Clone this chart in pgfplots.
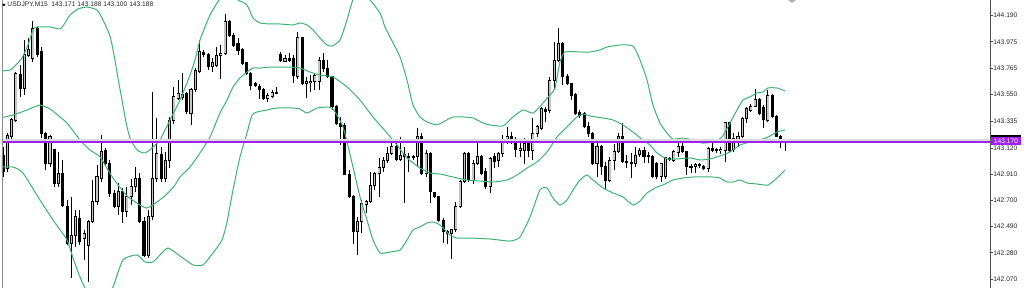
\documentclass[border=0pt]{standalone}
\usepackage{pgfplots}
\usepackage{pgfplotstable}
\pgfplotsset{compat=1.18}
\usepackage{fontspec}
\setmainfont{Liberation Sans}
\definecolor{band}{HTML}{3CB371}
\definecolor{hline}{HTML}{A020F0}
\definecolor{bullfill}{HTML}{C6C6C6}
\definecolor{bidline}{HTML}{DADADA}

\pgfplotstableread{
i o h l c
0 143.066 143.133 142.892 142.932
1 142.959 143.240 142.932 143.226
2 143.213 143.360 143.159 143.347
3 143.347 143.735 143.333 143.722
4 143.716 143.788 143.534 143.601
5 143.601 143.989 143.548 143.869
6 143.869 144.003 143.855 143.914
7 143.842 144.145 143.815 144.083
8 144.083 144.096 143.855 143.869
9 143.896 143.936 143.200 143.240
10 143.240 143.253 142.945 142.999
11 142.999 143.226 142.972 143.213
12 143.106 143.119 142.812 142.838
13 142.838 143.092 142.812 142.919
14 142.919 143.025 142.651 142.664
15 142.651 142.705 142.343 142.356
16 142.356 142.731 142.075 142.423
17 142.423 142.624 142.330 142.571
18 142.557 142.624 142.343 142.370
19 142.397 142.464 142.223 142.437
20 142.343 142.544 142.049 142.530
21 142.530 142.865 142.517 142.691
22 142.691 142.985 142.664 142.892
23 142.878 143.226 142.852 143.092
24 143.106 143.119 142.985 142.999
25 142.999 143.025 142.731 142.758
26 142.758 142.785 142.638 142.651
27 142.651 142.838 142.584 142.771
28 142.771 142.798 142.517 142.611
29 142.611 142.812 142.571 142.731
30 142.731 142.878 142.664 142.812
31 142.812 142.972 142.771 142.878
32 142.878 142.919 142.517 142.530
33 142.530 142.571 142.249 142.263
34 142.263 142.624 142.236 142.571
35 142.571 143.574 142.544 142.878
36 142.878 143.360 142.852 143.079
37 143.066 143.133 142.852 142.878
38 142.878 143.092 142.852 143.025
39 143.025 143.374 142.959 143.347
40 143.347 143.615 143.320 143.534
41 143.521 143.668 143.507 143.561
42 143.529 143.722 143.507 143.553
43 143.561 143.574 143.400 143.414
44 143.400 143.601 143.307 143.588
45 143.588 143.762 143.574 143.748
46 143.735 143.989 143.722 143.896
47 143.890 143.909 143.855 143.874
48 143.869 143.882 143.748 143.775
49 143.775 143.842 143.735 143.807
50 143.789 143.936 143.775 143.869
51 143.869 143.949 143.681 143.882
52 143.882 144.198 143.869 144.137
53 144.137 144.150 144.016 144.029
54 144.029 144.043 143.936 143.949
55 143.963 144.003 143.869 143.909
56 143.914 143.922 143.789 143.802
57 143.807 143.815 143.708 143.722
58 143.722 143.735 143.588 143.628
59 143.636 143.655 143.609 143.620
60 143.620 143.636 143.513 143.593
61 143.593 143.601 143.507 143.521
62 143.521 143.561 143.494 143.548
63 143.540 143.588 143.521 143.566
64 143.572 143.615 143.556 143.561
65 143.869 143.896 143.815 143.821
66 143.821 143.869 143.815 143.842
67 143.842 143.882 143.815 143.829
68 143.842 143.869 143.641 143.708
69 143.695 144.056 143.681 144.011
70 144.011 144.016 143.628 143.641
71 143.641 143.695 143.521 143.660
72 143.647 143.708 143.574 143.660
73 143.655 143.722 143.588 143.708
74 143.655 143.855 143.588 143.829
75 143.829 143.882 143.735 143.762
76 143.762 143.829 143.681 143.695
77 143.695 143.700 143.427 143.454
78 143.459 143.467 143.307 143.320
79 143.320 143.374 143.146 143.299
80 143.307 143.320 142.905 142.913
81 142.913 142.945 142.718 142.731
82 142.731 142.745 142.351 142.450
83 142.450 142.571 142.263 142.530
84 142.530 142.705 142.437 142.678
85 142.672 142.705 142.597 142.691
86 142.691 142.932 142.678 142.825
87 142.825 142.932 142.785 142.919
88 142.919 143.039 142.731 142.964
89 142.964 143.052 142.932 143.020
90 143.020 143.133 142.999 143.079
91 143.079 143.173 143.066 143.133
92 143.133 143.186 143.020 143.031
93 143.031 143.213 143.020 143.066
94 143.066 143.133 142.678 143.052
95 143.058 143.079 142.932 143.047
96 143.052 143.066 143.025 143.042
97 143.052 143.280 142.972 143.213
98 143.213 143.240 142.905 142.919
99 142.919 143.106 142.892 143.079
100 143.079 143.092 142.678 142.771
101 142.763 142.771 142.718 142.731
102 142.731 142.731 142.530 142.544
103 142.544 142.557 142.356 142.450
104 142.450 142.464 142.356 142.437
105 142.437 142.477 142.236 142.469
106 142.469 142.691 142.450 142.656
107 142.651 142.865 142.638 142.852
108 142.852 143.092 142.838 143.079
109 143.079 143.092 142.852 142.865
110 142.865 143.025 142.838 142.999
111 142.999 143.173 142.985 143.052
112 143.052 143.066 142.905 142.919
113 142.932 142.959 142.798 142.812
114 142.812 143.052 142.758 143.039
115 143.052 143.079 142.959 143.012
116 143.025 143.092 142.972 143.079
117 143.079 143.226 143.052 143.173
118 143.173 143.293 143.159 143.218
119 143.218 143.253 143.159 143.192
120 143.192 143.213 143.052 143.106
121 143.106 143.159 143.052 143.119
122 143.106 143.200 142.999 143.159
123 143.159 143.173 143.052 143.106
124 143.106 143.360 143.025 143.240
125 143.240 143.307 143.213 143.293
126 143.280 143.454 143.267 143.441
127 143.432 143.454 143.333 143.414
128 143.427 143.695 143.400 143.668
129 143.668 143.976 143.588 143.829
130 143.829 144.083 143.815 143.963
131 143.963 143.976 143.628 143.695
132 143.700 143.716 143.628 143.641
133 143.641 143.647 143.507 143.548
134 143.556 143.561 143.387 143.400
135 143.406 143.427 143.360 143.387
136 143.400 143.414 143.280 143.293
137 143.293 143.333 143.213 143.240
138 143.240 143.253 142.985 142.999
139 142.999 143.159 142.892 143.133
140 143.138 143.146 142.905 142.972
141 142.972 143.012 142.785 142.865
142 142.865 143.052 142.852 143.025
143 143.025 143.159 142.945 143.092
144 143.092 143.240 143.079 143.218
145 143.218 143.320 142.999 143.012
146 143.017 143.066 142.959 143.007
147 143.007 143.079 142.878 142.999
148 142.999 143.133 142.972 143.066
149 143.074 143.119 143.052 143.101
150 143.101 143.133 142.999 143.052
151 143.063 143.092 142.999 143.052
152 143.052 143.066 142.878 142.892
153 142.999 143.012 142.878 142.892
154 142.892 143.004 142.852 142.999
155 142.892 143.052 142.878 143.044
156 143.039 143.052 143.020 143.031
157 143.025 143.106 143.012 143.092
158 143.085 143.173 143.052 143.133
159 143.133 143.186 143.079 143.092
160 143.092 143.101 142.905 142.977
161 142.977 142.993 142.919 142.967
162 142.972 142.999 142.919 142.993
163 142.988 142.999 142.959 142.983
164 142.972 142.985 142.945 142.959
165 142.959 143.133 142.932 143.119
166 143.119 143.173 143.092 143.101
167 143.109 143.119 143.079 143.103
168 143.101 143.133 143.074 143.111
169 143.106 143.333 143.012 143.325
170 143.325 143.333 143.079 143.106
171 143.111 143.240 143.092 143.200
172 143.173 143.253 143.133 143.213
173 143.213 143.374 143.200 143.360
174 143.360 143.454 143.320 143.441
175 143.427 143.475 143.414 143.459
176 143.459 143.593 143.449 143.513
177 143.513 143.521 143.387 143.400
178 143.449 143.467 143.280 143.347
179 143.347 143.588 143.333 143.548
180 143.548 143.553 143.360 143.374
181 143.374 143.387 143.208 143.213
182 143.213 143.226 143.119 143.173
183 143.171 143.188 143.100 143.188
}\candles

\pgfplotstableread{
i p
-0.70 143.740
1.64 143.748
2.81 143.781
4.45 143.845
5.85 143.949
7.02 144.070
7.96 144.094
11.00 144.094
13.34 144.078
14.51 144.126
15.68 144.190
17.55 144.238
19.66 144.254
22.00 144.230
23.40 144.150
25.04 144.021
25.98 143.869
26.91 143.684
27.85 143.507
28.78 143.331
29.72 143.202
31.36 143.106
33.23 143.082
35.10 143.130
36.74 143.186
37.91 143.267
39.08 143.347
41.42 143.507
43.76 143.708
44.93 143.829
46.10 143.989
47.27 144.094
48.44 144.190
50.08 144.286
51.25 144.335
53.12 144.351
54.99 144.311
57.10 144.270
58.50 144.166
60.14 144.126
62.48 144.118
64.82 144.118
67.87 144.110
69.50 144.126
71.14 144.110
72.55 144.070
74.18 144.005
75.82 143.949
76.99 143.941
78.87 143.989
80.50 144.150
81.91 144.311
84.01 144.375
85.89 144.311
88.22 144.206
89.39 144.094
90.57 144.013
92.91 143.853
94.54 143.668
95.95 143.467
97.59 143.371
99.23 143.331
101.56 143.307
102.97 143.331
105.31 143.371
107.65 143.371
109.99 143.363
112.33 143.323
113.97 143.307
117.01 143.299
119.35 143.371
121.69 143.427
124.03 143.403
126.37 143.483
128.01 143.548
129.18 143.604
130.35 143.813
131.52 143.893
135.03 143.893
137.37 143.893
139.71 143.909
141.35 143.933
144.39 143.949
147.43 143.941
149.07 143.829
150.71 143.668
152.11 143.467
153.75 143.323
155.39 143.242
156.79 143.194
159.13 143.202
161.47 143.186
163.58 143.162
166.15 143.170
168.26 143.210
170.13 143.323
171.77 143.427
173.17 143.507
174.81 143.532
176.45 143.564
177.85 143.572
179.02 143.604
181.12 143.604
183.00 143.580
}\bandup

\pgfplotstableread{
i p
-0.70 143.363
2.34 143.387
5.62 143.427
8.66 143.467
11.00 143.435
13.34 143.371
14.98 143.323
18.02 143.186
20.36 143.106
22.70 143.050
25.74 142.881
29.02 142.737
32.06 142.664
33.70 142.640
36.04 142.688
38.38 142.753
40.25 142.825
41.42 142.889
43.76 142.969
46.10 143.082
48.44 143.210
50.78 143.403
52.42 143.507
53.82 143.612
55.46 143.684
57.10 143.732
58.50 143.764
60.14 143.764
62.48 143.772
64.82 143.772
67.16 143.772
69.50 143.764
71.84 143.732
74.18 143.708
77.23 143.692
80.50 143.612
83.55 143.507
86.59 143.371
89.86 143.242
92.20 143.146
94.54 143.042
97.59 142.961
99.93 142.921
102.27 142.913
105.31 142.889
108.58 142.865
111.63 142.857
114.67 142.849
117.95 142.865
120.29 142.905
122.63 142.961
124.97 143.010
127.31 143.090
129.65 143.210
131.99 143.291
134.33 143.371
135.73 143.395
137.37 143.379
140.41 143.363
142.75 143.347
145.09 143.307
147.43 143.250
149.77 143.186
151.41 143.146
153.05 143.082
155.39 143.034
157.73 143.034
160.77 143.042
163.11 143.026
165.45 143.034
167.79 143.058
170.13 143.090
172.47 143.146
174.81 143.170
177.15 143.186
179.02 143.210
181.12 143.250
183.00 143.267
}\bandmid

\pgfplotstableread{
i p
-0.70 142.969
2.34 142.969
4.68 142.921
8.66 142.704
11.70 142.544
14.98 142.383
16.38 142.239
18.02 142.086
19.66 141.966
21.53 141.901
23.87 141.901
25.74 142.006
28.08 142.223
31.36 142.263
33.23 142.207
35.10 142.207
36.74 142.263
38.61 142.319
41.42 142.255
44.46 142.183
46.80 142.183
49.14 142.279
51.25 142.383
52.42 142.528
53.82 142.785
55.46 143.050
57.10 143.242
58.27 143.387
59.44 143.411
61.78 143.427
64.12 143.443
67.87 143.443
69.50 143.435
71.14 143.403
73.48 143.443
75.82 143.451
77.23 143.435
79.57 143.291
81.91 142.969
83.55 142.729
85.18 142.544
86.59 142.383
88.22 142.279
90.57 142.287
92.91 142.303
94.54 142.383
95.95 142.464
97.59 142.488
99.23 142.520
100.63 142.528
102.27 142.504
104.61 142.423
106.24 142.399
109.29 142.399
113.97 142.391
118.65 142.375
120.99 142.407
123.33 142.568
125.67 142.785
127.31 142.801
128.71 142.721
130.35 142.664
131.99 142.704
133.39 142.785
135.03 142.865
136.67 142.905
138.07 142.865
140.41 142.801
142.75 142.761
145.09 142.729
147.43 142.664
149.07 142.696
150.71 142.761
153.05 142.809
154.45 142.825
156.79 142.865
159.13 142.881
161.47 142.889
166.15 142.889
167.79 142.881
169.43 142.849
170.83 142.849
172.47 142.865
174.11 142.841
176.45 142.833
179.02 142.825
181.12 142.881
183.00 142.945
}\banddn

\begin{document}
\begin{tikzpicture}
\path[use as bounding box] (0,0) rectangle (768pt,216pt);
\begin{axis}[
  name=ax,
  at={(1.5pt,0pt)}, anchor=south west,
  width=741pt, height=216pt, scale only axis,
  xmin=-0.234, xmax=230.98,
  ymin=141.9978, ymax=144.3105,
  axis x line=none,
  axis y line*=right,
  axis line style={-, black!70, line width=0.6pt},
  ytick={144.19,143.975,143.765,143.55,143.335,143.12,142.91,142.7,142.49,142.28,142.07},
  yticklabels={144.190,143.975,143.765,143.550,143.335,143.120,142.910,142.700,142.490,142.280,142.070},
  tick align=outside,
  major tick length=2.25pt,
  tick style={black!70, line width=0.6pt},
  yticklabel style={font=\fontsize{5}{6}\selectfont, text=black!85, anchor=west, inner sep=0pt},
  /pgf/number format/assume math mode=true,
]
% wicks
\addplot[draw=none, mark=none, forget plot, error bars/.cd, y dir=both, y explicit, error mark=none,
  error bar style={draw=black, line width=0.7pt}]
  table[x=i, y expr={(\thisrow{h}+\thisrow{l})/2}, y error expr={(\thisrow{h}-\thisrow{l})/2}] {\candles};
% body outlines / bear bodies
\addplot[draw=none, mark=none, forget plot, error bars/.cd, y dir=both, y explicit, error mark=none,
  error bar style={draw=black, line width=2.3pt}]
  table[x=i, y expr={(\thisrow{o}+\thisrow{c})/2}, y error expr={abs(\thisrow{c}-\thisrow{o})/2+0.004}] {\candles};
% bull body fill
\addplot[draw=none, mark=none, forget plot, error bars/.cd, y dir=both, y explicit, error mark=none,
  error bar style={draw=bullfill, line width=1.1pt}]
  table[x=i, y expr={(\thisrow{o}+\thisrow{c})/2}, y error expr={max((\thisrow{c}-\thisrow{o})/2-0.004,0)}] {\candles};
% Bollinger bands
\addplot[band, line width=0.75pt, smooth, tension=0.35, mark=none] table[x=i, y=p] {\bandup};
\addplot[band, line width=0.75pt, smooth, tension=0.35, mark=none] table[x=i, y=p] {\bandmid};
\addplot[band, line width=0.75pt, smooth, tension=0.35, mark=none] table[x=i, y=p] {\banddn};
% bid line and horizontal line
\addplot[bidline, line width=1.5pt, mark=none] coordinates {(-1,143.188) (232,143.188)};
\addplot[hline, line width=1.3pt, mark=none] coordinates {(-1,143.170) (232,143.170)};
\end{axis}
% left border
\draw[black!45, line width=0.6pt] (1.5pt,0pt) -- (1.5pt,216pt);
% title
\fill[black] (1.6pt,213.0pt) -- (4.2pt,213.0pt) -- (2.9pt,211.2pt) -- cycle;
\node[anchor=west, inner sep=0pt, font=\fontsize{5}{6}\selectfont, text=black!85] at (5.4pt,212.3pt)
  {USDJPY,M15\ \ 143.171 143.188 143.100 143.188};
% chart shift marker
\fill[black!30] (591pt,216pt) -- (597pt,216pt) -- (594pt,213.8pt) -- cycle;
% price labels on the scale
\fill[black] (743.5pt,108.5pt) rectangle (765.5pt,114.8pt);
\fill[hline] (743.5pt,107.2pt) rectangle (765.5pt,113.5pt);
\node[anchor=center, inner sep=0pt, font=\fontsize{5}{6}\selectfont, text=white] at (754.5pt,110.3pt) {143.170};
\end{tikzpicture}
\end{document}
